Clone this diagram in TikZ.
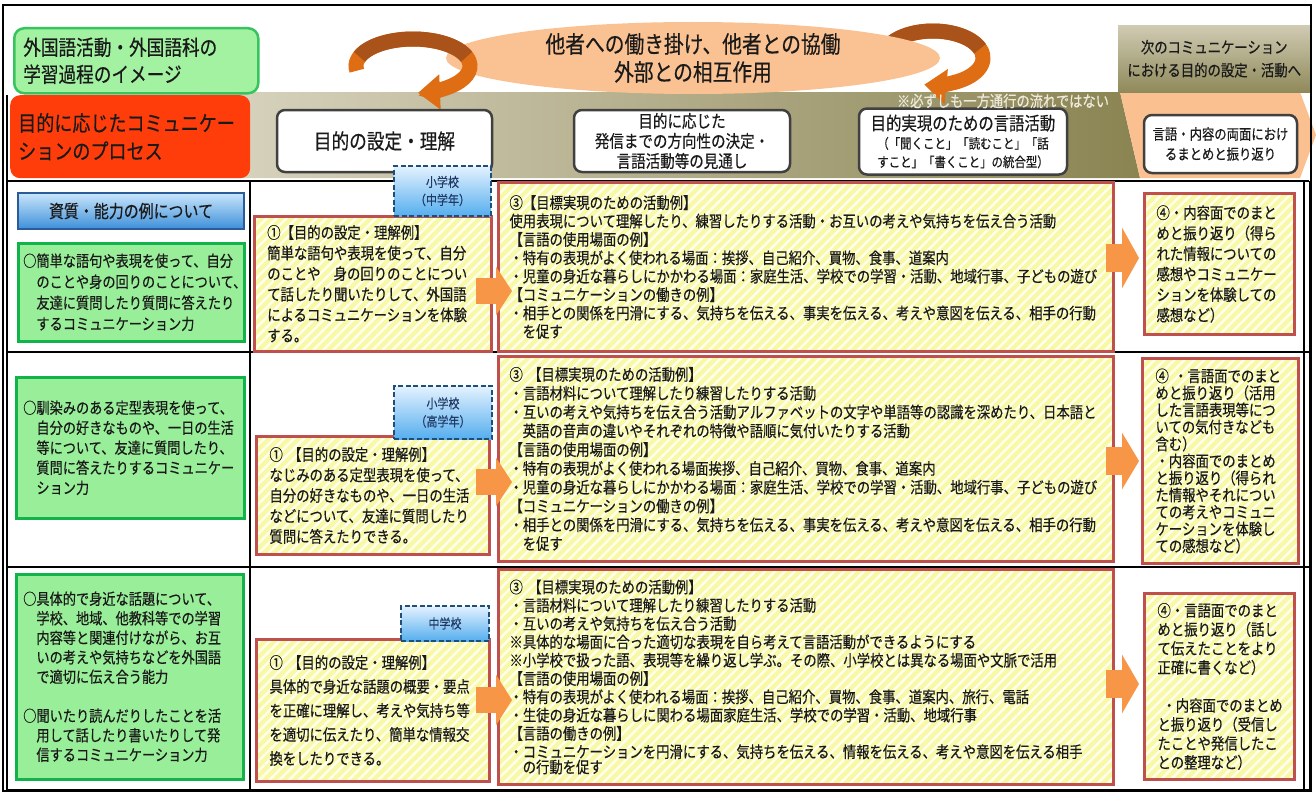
\documentclass[tikz,border=0pt]{standalone}
\usepackage{fontspec}
\setmainfont{Noto Sans CJK JP}[FakeStretch=0.84,FakeBold=0.4]
\usetikzlibrary{arrows.meta,patterns.meta,shapes.geometric}
\definecolor{txtc}{HTML}{1A1A1A}
\definecolor{peach}{HTML}{FAC08F}
\definecolor{ellF}{HTML}{FAC292}
\definecolor{bandL}{HTML}{DAD5C1}
\definecolor{bandR}{HTML}{8A8452}
\definecolor{olvT}{HTML}{D0CBB3}
\definecolor{olvB}{HTML}{8F895A}
\definecolor{ringC}{HTML}{DF6D14}
\definecolor{ringD}{HTML}{A9531B}
\definecolor{ttlF}{HTML}{A2F2A2}
\definecolor{ttlB}{HTML}{37C45F}
\definecolor{redF}{HTML}{FF3D0A}
\definecolor{hdrB}{HTML}{404040}
\definecolor{bluT}{HTML}{C9E6FC}
\definecolor{bluBot}{HTML}{3E8FD9}
\definecolor{bluB}{HTML}{2B5C9A}
\definecolor{tagT}{HTML}{E4F2FF}
\definecolor{tagBot}{HTML}{55AEEE}
\definecolor{tagB}{HTML}{1F4E79}
\definecolor{tagTx}{HTML}{1F3864}
\definecolor{grnF}{HTML}{99EF99}
\definecolor{grnB}{HTML}{12B34A}
\definecolor{ylw}{HTML}{F8F8A6}
\definecolor{ylwS}{HTML}{FFFFEE}
\definecolor{boxred}{HTML}{C0504D}
\definecolor{arrO}{HTML}{F79646}
\definecolor{noteC}{HTML}{EEEBDD}
\newcommand\myfs[2]{\fontsize{#1}{#2}\selectfont}
\newcommand\myind{\hspace*{13.2pt}}
\begin{document}
\begin{tikzpicture}[x=1pt,y=-1pt,
  gbox/.style={draw=grnB, line width=2.5pt, fill=grnF, anchor=north west, align=left, inner ysep=2pt, text=txtc},
  ybox/.style={draw=boxred, line width=3pt, preaction={fill=ylw}, pattern={Lines[angle=45,distance=7pt,line width=2.5pt]}, pattern color=ylwS, anchor=north west, align=left, inner ysep=2pt, text=txtc},
  hdrbox/.style={draw=hdrB, line width=2.5pt, fill=white, rounded corners=8pt, align=center, inner sep=2pt, text=txtc},
  schooltag/.style={draw=tagB, line width=2pt, dash pattern=on 5pt off 2.5pt, top color=tagT, bottom color=tagBot, anchor=north west, align=center, inner sep=1pt, text=tagTx, font=\myfs{13.1}{18}},
  bluebox/.style={draw=bluB, line width=2pt, top color=bluT, bottom color=bluBot, anchor=north west, align=center, inner sep=1pt, text=txtc},
  ttlbox/.style={draw=ttlB, line width=2.5pt, fill=ttlF, rounded corners=10pt, anchor=north west, align=left, inner ysep=2pt, text=txtc},
  procbox/.style={fill=redF, rounded corners=10pt, anchor=north west, align=left, inner ysep=2pt, text=txtc},
  blockarr/.style={draw=arrO},
  ringarc/.style={draw=ringC, line width=15pt, -{Triangle[length=22pt,width=34pt]}},
  ringtop/.style={draw=ringD, line width=15pt},
  tline/.style={draw=black, line width=2.5pt}
]
\useasboundingbox (0,0) rectangle (1316,792);
\fill[white] (0,0) rectangle (1316,792);

% header band
\shade[left color=bandL, right color=bandR] (200,92) -- (1120,92) -- (1140,178) -- (200,178) -- cycle;
\fill[peach] (1120,92) -- (1300,92) -- (1316,135) -- (1300,178) -- (1140,178) -- cycle;

% next communication box
\node[anchor=north west, minimum width=192pt, minimum height=67pt, inner sep=0pt, top color=olvT, bottom color=olvB, align=center, text=txtc, font=\myfs{15.9}{23}] (nextbox) at (1118,25) {次のコミュニケーション\\における目的の設定・活動へ};

% right ring (partly behind the ellipse)
\draw[ringarc] (933,58) ++(-150:50pt and 27pt) arc[start angle=-150, end angle=-460, x radius=50pt, y radius=27pt];
\draw[ringtop] (933,58) ++(-200:50pt and 27pt) arc[start angle=-200, end angle=-340, x radius=50pt, y radius=27pt];

% ellipse
\node[ellipse, fill=ellF, minimum width=494pt, minimum height=72pt, inner sep=0pt, align=center, text=txtc, font=\myfs{23.5}{28}] (ell) at (693,58) {他者への働き掛け、他者との協働\\外部との相互作用};

% left ring (in front)
\draw[ringarc] (413,66) ++(-170:57pt and 27pt) arc[start angle=-170, end angle=-445, x radius=57pt, y radius=27pt];
\draw[ringtop] (413,66) ++(-200:57pt and 27pt) arc[start angle=-200, end angle=-340, x radius=57pt, y radius=27pt];

% title boxes
\node[ttlbox, text width=226pt, inner xsep=9pt, minimum height=65pt, font=\myfs{21}{27}] (title) at (13,27) {外国語活動・外国語科の\\学習過程のイメージ};
\node[procbox, text width=224pt, inner xsep=8pt, minimum height=83pt, font=\myfs{21.5}{28}] (proc) at (10,95) {目的に応じたコミュニケー\\ションのプロセス};

% header boxes
\node[hdrbox, minimum width=215pt, minimum height=62pt, font=\myfs{21}{24}] (hb1) at (384.5,141) {目的の設定・理解};
\node[hdrbox, minimum width=216pt, minimum height=62pt, font=\myfs{17.3}{20}] (hb2) at (682,141) {目的に応じた\\発信までの方向性の決定・\\言語活動等の見通し};
\node[hdrbox, minimum width=208pt, minimum height=66pt, font=\myfs{13.6}{18.5}] (hb3) at (963,141.5) {{\myfs{18.3}{20}目的実現のための言語活動}\\（「聞くこと」「読むこと」「話\\すこと」「書くこと」の統合型）};
\node[hdrbox, minimum width=153pt, minimum height=58pt, font=\myfs{14.7}{20}] (hb4) at (1220.5,144) {言語・内容の両面におけ\\るまとめと振り返り};
\node[text=noteC, inner sep=0pt, font=\myfs{15.8}{18}] (note) at (1003,101) {※必ずしも一方通行の流れではない};

% table lines
\draw[black, line width=1.2pt] (3,5) rectangle (1311,791);
\draw[tline] (7,95) -- (7,791);
\draw[tline] (7,181) -- (1309,181);
\draw[tline] (7,352) -- (1309,352);
\draw[tline] (7,567) -- (1309,567);
\draw[tline] (7,790) -- (1309,790);
\draw[tline] (250,181) -- (250,790);
\draw[tline] (1304,181) -- (1304,790);
\draw[black, line width=1pt] (1309.5,181) -- (1309.5,790);

% ---- row 1
\node[bluebox, minimum width=226pt, minimum height=36pt, font=\myfs{17.8}{20}] (blue) at (17,192) {資質・能力の例について};
\node[gbox, text width=216pt, inner xsep=5pt, minimum height=98pt, font=\myfs{15.7}{21}] (g1) at (17,242) {○簡単な語句や表現を使って、自分\\\myind のことや身の回りのことについて、\\\myind 友達に質問したり質問に答えたり\\\myind するコミュニケーション力};
\node[ybox, text width=211pt, inner xsep=13pt, minimum height=135pt, font=\myfs{15.9}{20.6}] (b11) at (253,215) {①【目的の設定・理解例】\\簡単な語句や表現を使って、自分\\のことや\hspace{13pt}身の回りのことについ\\て話したり聞いたりして、外国語\\によるコミュニケーションを体験\\する。};
\node[schooltag, minimum width=97pt, minimum height=50pt] (t1) at (393,165) {小学校\\（中学年）};
\node[ybox, text width=593pt, inner xsep=11pt, minimum height=169pt, font=\myfs{15.9}{18.4}] (b13) at (497,181) {③【目標実現のための活動例】\\使用表現について理解したり、練習したりする活動・お互いの考えや気持ちを伝え合う活動\\【言語の使用場面の例】\\・特有の表現がよく使われる場面：挨拶、自己紹介、買物、食事、道案内\\・児童の身近な暮らしにかかわる場面：家庭生活、学校での学習・活動、地域行事、子どもの遊び\\【コミュニケーションの働きの例】\\・相手との関係を円滑にする、気持ちを伝える、事実を伝える、考えや意図を伝える、相手の行動\\\myind を促す};
\node[ybox, text width=126pt, inner xsep=12pt, minimum height=141pt, font=\myfs{15.9}{20.5}] (b14) at (1143,192) {④・内容面でのまと\\めと振り返り（得ら\\れた情報についての\\感想やコミュニケー\\ションを体験しての\\感想など）};
\coordinate (a11s) at (476,291); \coordinate (a11e) at (512,291);
\draw[blockarr, line width=26pt, -{Triangle[length=16pt,width=48pt]}] (a11s) -- (a11e);
\coordinate (a13s) at (1106,258); \coordinate (a13e) at (1139,258);
\draw[blockarr, line width=28pt, -{Triangle[length=17pt,width=60pt]}] (a13s) -- (a13e);

% ---- row 2
\node[gbox, text width=214pt, inner xsep=7pt, minimum height=141pt, font=\myfs{15.7}{20}] (g2) at (15,376) {○馴染みのある定型表現を使って、\\\myind 自分の好きなものや、一日の生活\\\myind 等について、友達に質問したり、\\\myind 質問に答えたりするコミュニケー\\\myind ション力};
\node[ybox, text width=207pt, inner xsep=13pt, minimum height=118pt, font=\myfs{15.9}{20.5}] (b21) at (255,435) {① 【目的の設定・理解例】\\なじみのある定型表現を使って、\\自分の好きなものや、一日の生活\\などについて、友達に質問したり\\質問に答えたりできる。};
\node[schooltag, minimum width=98pt, minimum height=53pt] (t2) at (393,385) {小学校\\（高学年）};
\node[ybox, text width=593pt, inner xsep=11pt, minimum height=205pt, font=\myfs{15.9}{18.8}] (b23) at (497,355) {③ 【目標実現のための活動例】\\・言語材料について理解したり練習したりする活動\\・互いの考えや気持ちを伝え合う活動アルファベットの文字や単語等の認識を深めたり、日本語と\\\myind 英語の音声の違いやそれぞれの特徴や語順に気付いたりする活動\\【言語の使用場面の例】\\・特有の表現がよく使われる場面挨拶、自己紹介、買物、食事、道案内\\・児童の身近な暮らしにかかわる場面：家庭生活、学校での学習・活動、地域行事、子どもの遊び\\【コミュニケーションの働きの例】\\・相手との関係を円滑にする、気持ちを伝える、事実を伝える、考えや意図を伝える、相手の行動\\\myind を促す};
\node[ybox, text width=130pt, inner xsep=13pt, minimum height=205pt, font=\myfs{15.9}{17}] (b24) at (1141,357) {④ ・言語面でのまと\\めと振り返り（活用\\した言語表現等につ\\いての気付きなども\\含む）\\・内容面でのまとめ\\と振り返り（得られ\\た情報やそれについ\\ての考えやコミュニ\\ケーションを体験し\\ての感想など）};
\coordinate (a21s) at (476,482); \coordinate (a21e) at (512,482);
\draw[blockarr, line width=26pt, -{Triangle[length=16pt,width=48pt]}] (a21s) -- (a21e);
\coordinate (a23s) at (1106,461); \coordinate (a23e) at (1139,461);
\draw[blockarr, line width=28pt, -{Triangle[length=17pt,width=56pt]}] (a23s) -- (a23e);

% ---- row 3
\node[gbox, text width=213pt, inner xsep=7pt, minimum height=205pt, font=\myfs{15.7}{19.5}] (g3) at (15,573) {○具体的で身近な話題について、\\\myind 学校、地域、他教科等での学習\\\myind 内容等と関連付けながら、お互\\\myind いの考えや気持ちなどを外国語\\\myind で適切に伝え合う能力\\[19.5pt]○聞いたり読んだりしたことを活\\\myind 用して話したり書いたりして発\\\myind 信するコミュニケーション力};
\node[ybox, text width=207pt, inner xsep=13pt, minimum height=142pt, font=\myfs{15.9}{24}] (b31) at (255,638) {① 【目的の設定・理解例】\\具体的で身近な話題の概要・要点\\を正確に理解し、考えや気持ち等\\を適切に伝えたり、簡単な情報交\\換をしたりできる。};
\node[schooltag, minimum width=88pt, minimum height=35pt] (t3) at (400,605) {中学校};
\node[ybox, text width=593pt, inner xsep=11pt, minimum height=215pt, font=\myfs{15.9}{18.3}] (b33) at (497,568) {③ 【目標実現のための活動例】\\・言語材料について理解したり練習したりする活動\\・互いの考えや気持ちを伝え合う活動\\※具体的な場面に合った適切な表現を自ら考えて言語活動ができるようにする\\※小学校で扱った語、表現等を繰り返し学ぶ。その際、小学校とは異なる場面や文脈で活用\\【言語の使用場面の例】\\・特有の表現がよく使われる場面：挨拶、自己紹介、買物、食事、道案内、旅行、電話\\・生徒の身近な暮らしに関わる場面家庭生活、学校での学習・活動、地域行事\\【言語の働きの例】\\・コミュニケーションを円滑にする、気持ちを伝える、情報を伝える、考えや意図を伝える相手\\[-3pt]\myind の行動を促す};
\node[ybox, text width=124pt, inner xsep=13pt, minimum height=186pt, font=\myfs{15.9}{19}] (b34) at (1143,592) {④・言語面でのまと\\めと振り返り（話し\\て伝えたことをより\\正確に書くなど）\\[19pt]\hspace*{5pt}・内容面でのまとめ\\と振り返り（受信し\\たことや発信したこ\\との整理など）};
\coordinate (a31s) at (476,700); \coordinate (a31e) at (512,700);
\draw[blockarr, line width=26pt, -{Triangle[length=16pt,width=50pt]}] (a31s) -- (a31e);
\coordinate (a33s) at (1106,684); \coordinate (a33e) at (1139,684);
\draw[blockarr, line width=28pt, -{Triangle[length=17pt,width=58pt]}] (a33s) -- (a33e);
\end{tikzpicture}
\end{document}
